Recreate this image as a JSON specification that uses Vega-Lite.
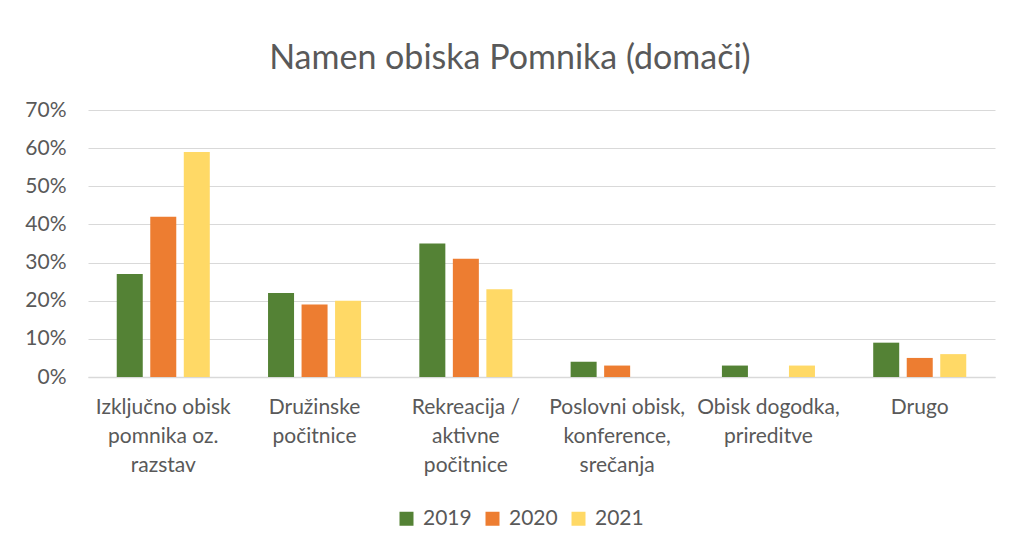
{
  "$schema": "https://vega.github.io/schema/vega-lite/v6.json",
  "autosize": {"type": "none"},
  "width": 907,
  "height": 267,
  "padding": {"left": 88, "top": 110, "right": 14, "bottom": 175},
  "background": "white",
  "title": {
    "text": "Namen obiska Pomnika (domači)",
    "font": "Lato",
    "fontSize": 34,
    "fontWeight": "normal",
    "color": "#595959",
    "anchor": "middle",
    "frame": "bounds",
    "offset": 23
  },
  "data": {
    "values": [
      {"kategorija": "Izključno obisk|pomnika oz.|razstav", "leto": "2019", "delez": 0.27},
      {"kategorija": "Izključno obisk|pomnika oz.|razstav", "leto": "2020", "delez": 0.42},
      {"kategorija": "Izključno obisk|pomnika oz.|razstav", "leto": "2021", "delez": 0.59},
      {"kategorija": "Družinske|počitnice", "leto": "2019", "delez": 0.22},
      {"kategorija": "Družinske|počitnice", "leto": "2020", "delez": 0.19},
      {"kategorija": "Družinske|počitnice", "leto": "2021", "delez": 0.20},
      {"kategorija": "Rekreacija /|aktivne|počitnice", "leto": "2019", "delez": 0.35},
      {"kategorija": "Rekreacija /|aktivne|počitnice", "leto": "2020", "delez": 0.31},
      {"kategorija": "Rekreacija /|aktivne|počitnice", "leto": "2021", "delez": 0.23},
      {"kategorija": "Poslovni obisk,|konference,|srečanja", "leto": "2019", "delez": 0.04},
      {"kategorija": "Poslovni obisk,|konference,|srečanja", "leto": "2020", "delez": 0.03},
      {"kategorija": "Poslovni obisk,|konference,|srečanja", "leto": "2021", "delez": 0.0},
      {"kategorija": "Obisk dogodka,|prireditve", "leto": "2019", "delez": 0.03},
      {"kategorija": "Obisk dogodka,|prireditve", "leto": "2020", "delez": 0.0},
      {"kategorija": "Obisk dogodka,|prireditve", "leto": "2021", "delez": 0.03},
      {"kategorija": "Drugo", "leto": "2019", "delez": 0.09},
      {"kategorija": "Drugo", "leto": "2020", "delez": 0.05},
      {"kategorija": "Drugo", "leto": "2021", "delez": 0.06}
    ]
  },
  "mark": {"type": "bar"},
  "encoding": {
    "x": {
      "field": "kategorija",
      "type": "nominal",
      "sort": null,
      "title": null,
      "scale": {"paddingInner": 0.385, "paddingOuter": 0.19},
      "axis": {
        "labelAngle": 0,
        "labelExpr": "split(datum.label, '|')",
        "labelFont": "Lato",
        "labelFontSize": 21,
        "labelLineHeight": 29,
        "labelColor": "#595959",
        "labelPadding": 19,
        "labelLimit": 0,
        "ticks": false,
        "domainColor": "#d9d9d9",
        "domainWidth": 1.5,
        "grid": false
      }
    },
    "xOffset": {
      "field": "leto",
      "type": "nominal",
      "scale": {"paddingInner": 0.224, "paddingOuter": 0}
    },
    "y": {
      "field": "delez",
      "type": "quantitative",
      "title": null,
      "scale": {"domain": [0, 0.7], "nice": false},
      "axis": {
        "format": ".0%",
        "values": [0, 0.1, 0.2, 0.3, 0.4, 0.5, 0.6, 0.7],
        "labelFont": "Lato",
        "labelFontSize": 21,
        "labelColor": "#595959",
        "labelPadding": 22,
        "ticks": false,
        "domain": false,
        "gridColor": "#d9d9d9",
        "gridWidth": 1.2
      }
    },
    "color": {
      "field": "leto",
      "type": "nominal",
      "title": null,
      "scale": {"domain": ["2019", "2020", "2021"], "range": ["#548235", "#ED7D31", "#FFD966"]},
      "legend": {
        "orient": "none",
        "direction": "horizontal",
        "legendX": 308,
        "legendY": 398,
        "symbolType": "square",
        "symbolSize": 196,
        "symbolStrokeWidth": 0,
        "labelFont": "Lato",
        "labelFontSize": 21,
        "labelColor": "#595959",
        "labelOffset": 6,
        "columnPadding": 10
      }
    }
  },
  "config": {
    "view": {"stroke": null}
  }
}
